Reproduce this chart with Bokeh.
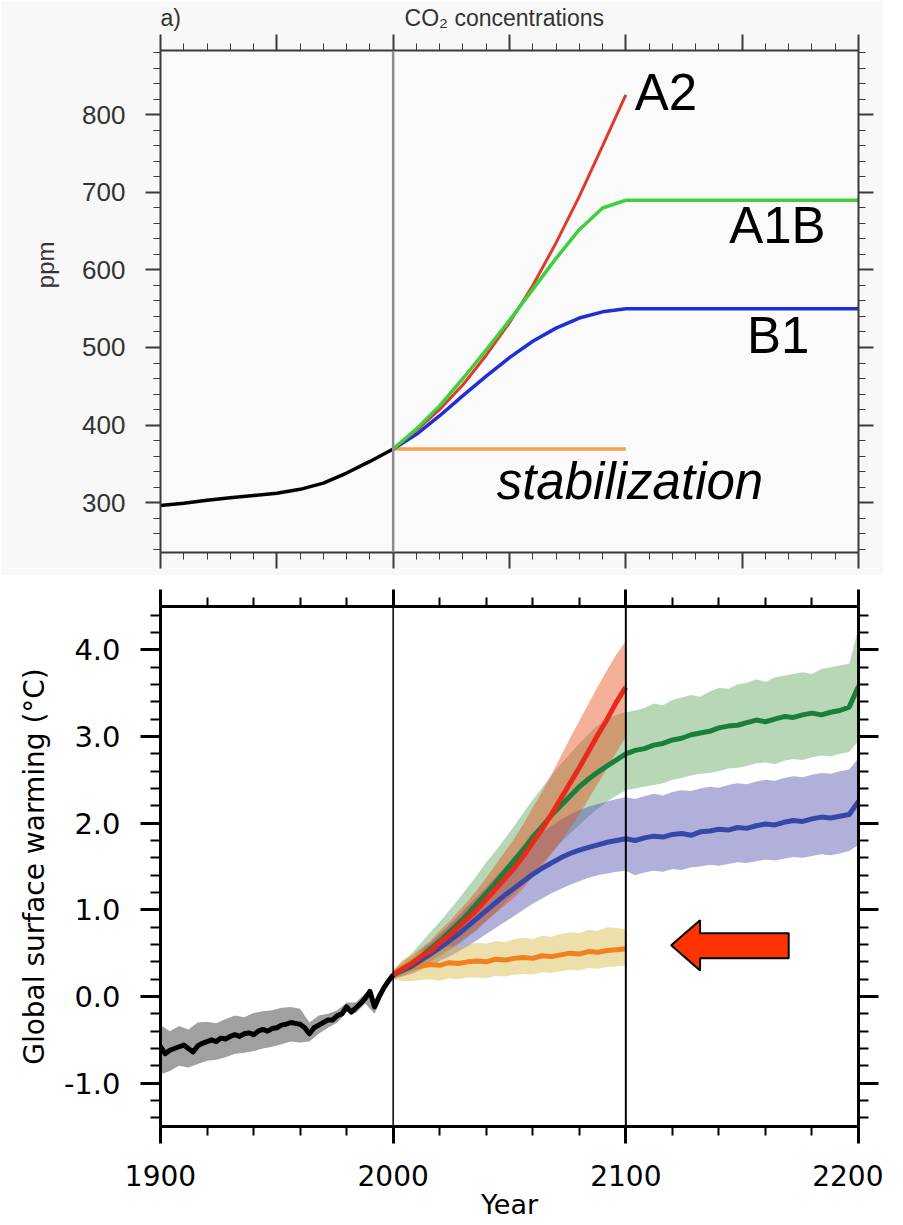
from bokeh.plotting import figure
from bokeh.layouts import column
from bokeh.models import (LinearAxis, SingleIntervalTicker, NumeralTickFormatter,
                          Span, Label, Range1d, Title, CustomLabelingPolicy)
from bokeh.embed import file_html
from bokeh.resources import INLINE

# ---------------- top panel data: CO2 concentrations (ppm) ----------------
co2_hist_years = [1900, 1910, 1920, 1930, 1940, 1950, 1960, 1970, 1980, 1990, 2000]
co2_hist = [296, 299, 303, 306, 309, 312, 317, 325, 338, 353, 369]
co2_scen_years = [2000, 2010, 2020, 2030, 2040, 2050, 2060, 2070, 2080, 2090, 2100]
co2_a2 = [369, 393, 420, 452, 490, 532, 580, 635, 695, 760, 826]
co2_ext_years = [2000, 2010, 2020, 2030, 2040, 2050, 2060, 2070, 2080, 2090, 2100, 2200]
co2_a1b = [369, 395, 425, 460, 497, 535, 575, 615, 652, 680, 690, 690]
co2_b1 = [369, 388, 412, 438, 463, 487, 508, 525, 538, 546, 550, 550]
co2_stab_years = [2000, 2100]
co2_stab = [369, 369]

# ---------------- bottom panel data: global surface warming (deg C) --------
hist_years = [1900, 1902, 1904, 1906, 1908, 1910, 1912, 1914, 1916, 1918, 1920,
              1922, 1924, 1926, 1928, 1930, 1932, 1934, 1936, 1938, 1940, 1942,
              1944, 1946, 1948, 1950, 1952, 1954, 1956, 1958, 1960, 1962, 1964,
              1966, 1968, 1970, 1972, 1974, 1976, 1978, 1980, 1982, 1984, 1986,
              1988, 1990, 1992, 1994, 1996, 1998, 2000]
hist_temp = [-0.58, -0.66, -0.62, -0.60, -0.58, -0.56, -0.60, -0.64, -0.57, -0.54, -0.52,
             -0.50, -0.52, -0.48, -0.49, -0.46, -0.44, -0.46, -0.43, -0.42, -0.44, -0.40,
             -0.38, -0.40, -0.37, -0.36, -0.33, -0.32, -0.30, -0.31, -0.32, -0.36, -0.43,
             -0.36, -0.33, -0.30, -0.27, -0.27, -0.22, -0.20, -0.12, -0.18, -0.13, -0.08,
             -0.02, 0.06, -0.12, 0.00, 0.10, 0.18, 0.25]
hist_band_years = [1900, 1904, 1908, 1912, 1916, 1920, 1924, 1928, 1932, 1936, 1940,
                   1944, 1948, 1952, 1956, 1960, 1964, 1968, 1972, 1976, 1980, 1984,
                   1988, 1992, 1996, 2000]
hist_upper = [-0.33, -0.40, -0.34, -0.38, -0.30, -0.29, -0.31, -0.26, -0.22, -0.24, -0.19,
              -0.17, -0.16, -0.13, -0.12, -0.14, -0.30, -0.22, -0.20, -0.16, -0.07, -0.07,
              0.04, -0.04, 0.15, 0.28]
hist_lower = [-0.90, -0.86, -0.80, -0.82, -0.78, -0.74, -0.73, -0.70, -0.66, -0.65, -0.63,
              -0.60, -0.58, -0.55, -0.52, -0.53, -0.52, -0.43, -0.36, -0.30, -0.18, -0.19,
              -0.08, -0.20, 0.05, 0.22]

c21_years = [2000, 2004, 2008, 2012, 2016, 2020, 2024, 2028, 2032, 2036, 2040, 2044, 2048,
             2052, 2056, 2060, 2064, 2068, 2072, 2076, 2080, 2084, 2088, 2092, 2096, 2100]
c22_years = c21_years + [2104, 2108, 2112, 2116, 2120, 2124, 2128, 2132, 2136, 2140, 2144,
                         2148, 2152, 2156, 2160, 2164, 2168, 2172, 2176, 2180, 2184, 2188,
                         2192, 2196, 2200]

a2_temp = [0.25, 0.32, 0.38, 0.46, 0.52, 0.62, 0.70, 0.80, 0.90, 1.00, 1.12, 1.24, 1.36,
           1.48, 1.62, 1.78, 1.93, 2.10, 2.28, 2.46, 2.64, 2.83, 3.02, 3.20, 3.40, 3.57]
a2_upper = [0.30, 0.40, 0.47, 0.56, 0.64, 0.76, 0.86, 0.98, 1.10, 1.23, 1.37, 1.52, 1.67,
            1.82, 1.99, 2.18, 2.36, 2.56, 2.77, 2.98, 3.18, 3.38, 3.58, 3.77, 3.95, 4.10]
a2_lower = [0.20, 0.25, 0.29, 0.36, 0.40, 0.48, 0.54, 0.62, 0.70, 0.77, 0.87, 0.96, 1.05,
            1.14, 1.25, 1.38, 1.50, 1.64, 1.79, 1.94, 2.10, 2.28, 2.46, 2.63, 2.82, 3.00]

a1b_temp = [0.25, 0.31, 0.38, 0.46, 0.55, 0.64, 0.74, 0.84, 0.95, 1.07, 1.19, 1.31, 1.44,
            1.57, 1.70, 1.84, 1.96, 2.09, 2.20, 2.31, 2.42, 2.51, 2.59, 2.66, 2.73, 2.80,
            2.84, 2.86, 2.90, 2.92, 2.96, 2.98, 3.02, 3.04, 3.06, 3.10, 3.12, 3.13, 3.16,
            3.19, 3.17, 3.20, 3.23, 3.22, 3.25, 3.27, 3.25, 3.28, 3.30, 3.34, 3.58]
a1b_upper = [0.30, 0.40, 0.50, 0.62, 0.74, 0.86, 0.99, 1.12, 1.26, 1.40, 1.55, 1.68, 1.82,
             1.97, 2.12, 2.27, 2.41, 2.55, 2.68, 2.80, 2.92, 3.03, 3.13, 3.20, 3.25, 3.28,
             3.30, 3.33, 3.38, 3.36, 3.42, 3.45, 3.48, 3.46, 3.52, 3.56, 3.55, 3.60, 3.62,
             3.66, 3.63, 3.68, 3.70, 3.72, 3.74, 3.72, 3.78, 3.80, 3.82, 3.84, 4.25]
a1b_lower = [0.20, 0.24, 0.28, 0.34, 0.40, 0.46, 0.53, 0.60, 0.68, 0.77, 0.87, 0.97, 1.08,
             1.19, 1.30, 1.42, 1.54, 1.66, 1.77, 1.88, 1.98, 2.08, 2.17, 2.25, 2.32, 2.38,
             2.40, 2.42, 2.44, 2.46, 2.50, 2.52, 2.55, 2.57, 2.58, 2.60, 2.63, 2.64, 2.66,
             2.69, 2.70, 2.68, 2.72, 2.74, 2.73, 2.76, 2.78, 2.77, 2.80, 2.82, 2.95]

b1_temp = [0.25, 0.30, 0.35, 0.42, 0.49, 0.56, 0.64, 0.72, 0.81, 0.90, 0.99, 1.08, 1.17,
           1.25, 1.33, 1.41, 1.48, 1.54, 1.60, 1.65, 1.69, 1.72, 1.75, 1.78, 1.80, 1.82,
           1.80, 1.83, 1.85, 1.84, 1.87, 1.88, 1.86, 1.90, 1.91, 1.93, 1.92, 1.95, 1.94,
           1.97, 1.99, 1.98, 2.01, 2.03, 2.02, 2.05, 2.07, 2.06, 2.08, 2.10, 2.25]
b1_upper = [0.30, 0.37, 0.44, 0.53, 0.62, 0.72, 0.82, 0.93, 1.04, 1.15, 1.26, 1.38, 1.49,
            1.60, 1.70, 1.80, 1.89, 1.97, 2.04, 2.10, 2.15, 2.19, 2.22, 2.25, 2.28, 2.30,
            2.28, 2.31, 2.34, 2.32, 2.36, 2.38, 2.37, 2.40, 2.42, 2.41, 2.44, 2.46, 2.45,
            2.48, 2.50, 2.49, 2.52, 2.54, 2.53, 2.56, 2.58, 2.57, 2.60, 2.62, 2.75]
b1_lower = [0.20, 0.23, 0.26, 0.31, 0.36, 0.41, 0.46, 0.52, 0.58, 0.65, 0.72, 0.79, 0.86,
            0.93, 1.00, 1.07, 1.13, 1.19, 1.24, 1.29, 1.33, 1.37, 1.40, 1.42, 1.44, 1.45,
            1.40, 1.43, 1.45, 1.44, 1.47, 1.46, 1.49, 1.50, 1.52, 1.51, 1.53, 1.55, 1.54,
            1.56, 1.58, 1.57, 1.59, 1.61, 1.60, 1.62, 1.64, 1.63, 1.65, 1.68, 1.75]

stab_temp = [0.25, 0.30, 0.33, 0.35, 0.37, 0.36, 0.39, 0.38, 0.40, 0.41, 0.40, 0.43, 0.42,
             0.44, 0.45, 0.44, 0.47, 0.46, 0.48, 0.50, 0.49, 0.52, 0.51, 0.53, 0.54, 0.55]
stab_upper = [0.30, 0.42, 0.48, 0.52, 0.55, 0.55, 0.58, 0.57, 0.60, 0.62, 0.61, 0.64, 0.63,
              0.66, 0.68, 0.66, 0.70, 0.69, 0.72, 0.74, 0.73, 0.77, 0.76, 0.80, 0.79, 0.78]
stab_lower = [0.20, 0.18, 0.18, 0.19, 0.20, 0.18, 0.21, 0.20, 0.22, 0.22, 0.21, 0.24, 0.23,
              0.25, 0.26, 0.25, 0.28, 0.27, 0.29, 0.31, 0.30, 0.33, 0.32, 0.34, 0.35, 0.36]

# block arrow annotation (year, deg C)
arrow_x = [2119.5, 2131.9, 2131.9, 2170.0, 2170.0, 2131.9, 2131.9]
arrow_y = [0.59, 0.88, 0.73, 0.73, 0.44, 0.44, 0.30]

HELV = "Liberation Sans"
WIDE = "DejaVu Sans"

NO_LABELS = "for (const i of Array.from(indices)) { indices.unset(i) }\nreturn indices"


def add_axes(p, x_int, y_int, color, lw, maj_x, min_x, maj_y, min_y):
    for side in ("below", "above", "left", "right"):
        if side in ("below", "above"):
            ax = LinearAxis(ticker=SingleIntervalTicker(interval=x_int, num_minor_ticks=5))
            ax.major_tick_out, ax.minor_tick_out = maj_x, min_x
        else:
            ax = LinearAxis(ticker=SingleIntervalTicker(interval=y_int, num_minor_ticks=5))
            ax.major_tick_out, ax.minor_tick_out = maj_y, min_y
        ax.major_tick_in = 0
        ax.minor_tick_in = 0
        ax.axis_line_color = color
        ax.major_tick_line_color = color
        ax.minor_tick_line_color = color
        ax.axis_line_width = lw
        ax.major_tick_line_width = lw
        ax.minor_tick_line_width = max(1, lw - 1)
        p.add_layout(ax, side)
    return p


def hide_labels(ax):
    ax.major_label_policy = CustomLabelingPolicy(code=NO_LABELS)
    ax.major_label_text_font_size = "2px"
    ax.major_label_standoff = 0


# ======================= TOP PANEL =======================
top = figure(width=883, height=575, x_range=Range1d(1900, 2200), y_range=Range1d(235.5, 883.2),
             output_backend="svg", toolbar_location=None,
             x_axis_location=None, y_axis_location=None,
             min_border_left=160, min_border_right=22, min_border_top=50, min_border_bottom=23)
top.grid.grid_line_color = None
top.outline_line_color = None
top.background_fill_color = "#fafafa"
top.border_fill_color = "#f8f8f8"
add_axes(top, 50, 100, "#3a3a3a", 2, 16, 7, 15, 7)
hide_labels(top.below[0])
hide_labels(top.above[0])
hide_labels(top.right[0])
ly = top.left[0]
ly.major_label_text_font = HELV
ly.major_label_text_font_size = "26px"
ly.major_label_text_color = "#333333"
ly.major_label_standoff = 20
ly.axis_label = "\u00a0" * 11 + "ppm"
ly.axis_label_text_font = HELV
ly.axis_label_text_font_size = "24px"
ly.axis_label_text_font_style = "normal"
ly.axis_label_text_color = "#333333"
ly.axis_label_standoff = 20

top.title = Title(text="a)" + "\u00a0" * 35 + "CO\u2082 concentrations", align="left",
                  text_font=HELV, text_font_size="23px", text_font_style="normal",
                  text_color="#333333", standoff=0)

top.add_layout(Span(location=2000, dimension="height", line_color="#8c8c8c", line_width=2.5))
top.line(co2_hist_years, co2_hist, line_color="black", line_width=3.5)
top.line(co2_stab_years, co2_stab, line_color="#f3a24a", line_width=3.5)
top.line(co2_ext_years, co2_b1, line_color="#1f2fd6", line_width=3.5)
top.line(co2_scen_years, co2_a2, line_color="#e23a2a", line_width=3.0)
top.line(co2_ext_years, co2_a1b, line_color="#3fd03f", line_width=3.5)

for txt, xx, yy, style in [("A2", 2103.8, 829, "normal"), ("A1B", 2144.4, 657, "normal"),
                           ("B1", 2152.1, 516, "normal"), ("stabilization", 2044.5, 327, "italic")]:
    top.add_layout(Label(x=xx, y=yy, text=txt, text_font=HELV, text_font_size="51px",
                         text_font_style=style, text_color="black",
                         text_baseline="alphabetic"))

# ======================= BOTTOM PANEL =======================
bot = figure(width=883, height=650, x_range=Range1d(1900, 2200), y_range=Range1d(-1.5, 4.5),
             output_backend="svg", toolbar_location=None,
             x_axis_location=None, y_axis_location=None,
             min_border_left=160, min_border_right=22, min_border_top=31, min_border_bottom=99)
bot.grid.grid_line_color = None
bot.outline_line_color = None
bot.background_fill_color = "white"
bot.border_fill_color = "white"
add_axes(bot, 100, 1, "black", 3, 17, 9, 20, 10)
hide_labels(bot.above[0])
hide_labels(bot.right[0])
lb = bot.left[0]
lb.formatter = NumeralTickFormatter(format="0.0")
lb.major_label_text_font = WIDE
lb.major_label_text_font_size = "29px"
lb.major_label_text_color = "black"
lb.major_label_standoff = 20
lb.axis_label = "Global surface warming (\u00b0C)"
lb.axis_label_text_font = WIDE
lb.axis_label_text_font_size = "28px"
lb.axis_label_text_font_style = "normal"
lb.axis_label_text_color = "black"
lb.axis_label_standoff = 10
bx = bot.below[0]
bx.major_label_text_font = WIDE
bx.major_label_text_font_size = "28px"
bx.major_label_text_color = "black"
bx.major_label_standoff = 21
bx.axis_label = "Year"
bx.axis_label_text_font = WIDE
bx.axis_label_text_font_size = "27px"
bx.axis_label_text_font_style = "normal"
bx.axis_label_text_color = "black"
bx.axis_label_standoff = 0

# uncertainty bands
bot.varea(x=c22_years, y1=a1b_lower, y2=a1b_upper, fill_color="#4a9a4a", fill_alpha=0.40)
bot.varea(x=c22_years, y1=b1_lower, y2=b1_upper, fill_color="#5050b0", fill_alpha=0.45)
bot.varea(x=c21_years, y1=a2_lower, y2=a2_upper, fill_color="#e85020", fill_alpha=0.45)
bot.varea(x=c21_years, y1=stab_lower, y2=stab_upper, fill_color="#d8b840", fill_alpha=0.45)
bot.varea(x=hist_band_years, y1=hist_lower, y2=hist_upper, fill_color="#8f8f8f", fill_alpha=0.85)

bot.add_layout(Span(location=2000, dimension="height", line_color="black", line_width=1.5))
bot.add_layout(Span(location=2100, dimension="height", line_color="black", line_width=2))

# model means
bot.line(c21_years, stab_temp, line_color="#f08020", line_width=5, line_join="round")
bot.line(c22_years, b1_temp, line_color="#3548a8", line_width=5, line_join="round")
bot.line(c22_years, a1b_temp, line_color="#1a7f3a", line_width=5, line_join="round")
bot.line(c21_years, a2_temp, line_color="#e8291c", line_width=5, line_join="round")
bot.line(hist_years, hist_temp, line_color="black", line_width=5, line_join="round")

bot.patch(arrow_x, arrow_y, fill_color="#ff3300", line_color="black", line_width=2)

page = column(top, bot, spacing=0)
open("out.html", "w").write(file_html(page, INLINE))
